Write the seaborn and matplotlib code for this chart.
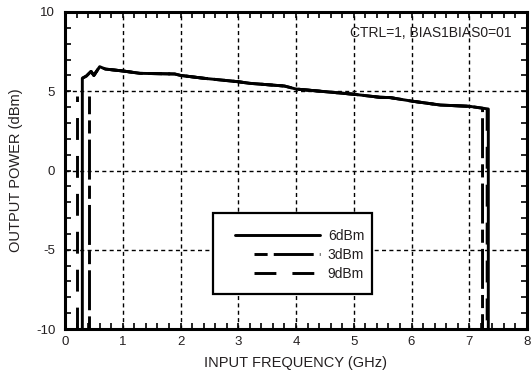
import matplotlib
matplotlib.use("Agg")
import matplotlib.pyplot as plt
import pandas as pd
import seaborn as sns
from matplotlib.patches import Rectangle
from matplotlib.legend_handler import HandlerLine2D
from matplotlib.ticker import MultipleLocator

# Output power vs. input frequency for three input drive levels.
# Each trace is a list of segments (x values, y values).
freq_6dbm = [[0.30, 0.30, 0.37, 0.45, 0.50, 0.60, 0.70, 1.00, 1.30, 1.90, 2.00, 2.40,
              3.00, 3.20, 3.80, 4.00, 5.00, 5.45, 5.63, 6.00, 6.50, 7.00, 7.33, 7.33]]
pout_6dbm = [[-10.0, 5.82, 5.96, 6.25, 6.00, 6.55, 6.40, 6.28, 6.13, 6.09, 6.00, 5.82,
              5.60, 5.50, 5.33, 5.14, 4.81, 4.62, 4.60, 4.38, 4.13, 4.05, 3.88, -10.0]]

freq_3dbm = [[0.42, 0.42],
             [0.45, 0.50, 0.60, 0.70, 1.00, 1.30, 1.90, 2.00, 2.40, 3.00, 3.20, 3.80,
              4.00, 5.00, 5.45, 5.63, 6.00, 6.50, 7.00, 7.23, 7.23]]
pout_3dbm = [[-10.0, 4.70],
             [6.25, 6.00, 6.55, 6.40, 6.28, 6.13, 6.09, 6.00, 5.82, 5.60, 5.50, 5.33,
              5.14, 4.81, 4.62, 4.60, 4.38, 4.13, 4.05, 3.93, -10.0]]

freq_9dbm = [[0.20, 0.20],
             [0.30, 0.37, 0.45, 0.50, 0.60, 0.70, 1.00, 1.30, 1.90, 2.00, 2.40, 3.00,
              3.20, 3.80, 4.00, 5.00, 5.45, 5.63, 6.00, 6.50, 7.00, 7.31, 7.31]]
pout_9dbm = [[-10.0, 4.70],
             [5.82, 5.96, 6.25, 6.00, 6.55, 6.40, 6.28, 6.13, 6.09, 6.00, 5.82, 5.60,
              5.50, 5.33, 5.14, 4.81, 4.62, 4.60, 4.38, 4.13, 4.05, 3.89, -10.0]]

series_names = ["6dBm", "3dBm", "9dBm"]
x_ticks = [0, 1, 2, 3, 4, 5, 6, 7, 8]
y_ticks = [-10, -5, 0, 5, 10]
annotation = "CTRL=1, BIAS1BIAS0=01"

frames = []
for name, fx, fy in zip(series_names,
                        [freq_6dbm, freq_3dbm, freq_9dbm],
                        [pout_6dbm, pout_3dbm, pout_9dbm]):
    for k, (sx, sy) in enumerate(zip(fx, fy)):
        frames.append(pd.DataFrame({"freq": sx, "pout": sy, "drive": name,
                                    "segment": f"{name}-{k}"}))
data = pd.concat(frames, ignore_index=True)

sns.set_style("ticks")
plt.rcParams["font.family"] = ["Liberation Sans", "DejaVu Sans"]
plt.rcParams["axes.unicode_minus"] = False
ink = "#231f20"
lw = 2.1

fig = plt.figure(figsize=(5.32, 3.79), dpi=100)
ax = fig.add_axes([65 / 532, 1 - 329 / 379, 462 / 532, 317 / 379])

# dash patterns in line-width units
dash_map = {"6dBm": "", "3dBm": (4.5, 2.1, 13.7, 2.1), "9dBm": (7.5, 5.5)}
sns.lineplot(data=data, x="freq", y="pout", style="drive", style_order=series_names,
             units="segment", dashes=dash_map, color="black", linewidth=lw,
             estimator=None, sort=False, ax=ax, legend=True)

ax.set_xlim(0, 8)
ax.set_ylim(-10, 10)
ax.set_xticks(x_ticks)
ax.set_yticks(y_ticks)
ax.xaxis.set_minor_locator(MultipleLocator(0.2))
ax.yaxis.set_minor_locator(MultipleLocator(1))
ax.grid(True, which="major", color="black", linestyle=(0, (2.9, 2.4)), linewidth=1.0)
ax.tick_params(which="both", direction="in", top=True, right=True,
               color="black", width=1.2, labelsize=9.5, labelcolor=ink)
ax.tick_params(which="major", length=4)
ax.tick_params(which="minor", length=4)
ax.tick_params(axis="y", pad=7)
ax.tick_params(axis="x", pad=5)
for sp in ax.spines.values():
    sp.set_linewidth(2.2)
    sp.set_color("black")

ax.set_xlabel("INPUT FREQUENCY (GHz)", fontsize=10.5, color=ink, labelpad=6)
ax.set_ylabel("OUTPUT POWER (dBm)", fontsize=10.5, color=ink, labelpad=9)

ax.text(0.9675, 0.935, annotation, transform=ax.transAxes, ha="right", va="center",
        fontsize=10, color=ink)


class TrimmedLineHandler(HandlerLine2D):
    """Legend line handler that starts the sample line a bit further right."""

    def __init__(self, trim=0.0, **kw):
        super().__init__(**kw)
        self.trim = trim

    def create_artists(self, legend, orig_handle, xdescent, ydescent, width, height,
                       fontsize, trans):
        artists = super().create_artists(legend, orig_handle, xdescent, ydescent,
                                         width, height, fontsize, trans)
        line = artists[0]
        xd = list(line.get_xdata())
        xd[0] = xd[0] + self.trim * (xd[-1] - xd[0])
        line.set_xdata(xd)
        return artists


old = ax.get_legend()
handles = list(old.legend_handles)
labels = [t.get_text() for t in old.texts]
old.remove()
handler_map = {h: TrimmedLineHandler(trim=0.0 if lab == "6dBm" else 0.22)
               for h, lab in zip(handles, labels)}

# legend frame drawn as a plain box behind the entries
ax.add_patch(Rectangle((0.320, 0.110), 0.345, 0.256, transform=ax.transAxes,
                       facecolor="white", edgecolor="black", linewidth=1.6,
                       zorder=4.5))
leg = ax.legend(handles, labels, loc="upper left", bbox_to_anchor=(0.368, 0.316),
                frameon=False, fontsize=10, handlelength=6.1, handletextpad=0.58,
                labelspacing=0.36, borderpad=0, borderaxespad=0,
                handler_map=handler_map)
leg.set_zorder(5)
for t in leg.get_texts():
    t.set_color(ink)
for lh in leg.legend_handles:
    lh.set_linewidth(lw)
    lh.set_color("black")

fig.savefig("out.png", dpi=100)
